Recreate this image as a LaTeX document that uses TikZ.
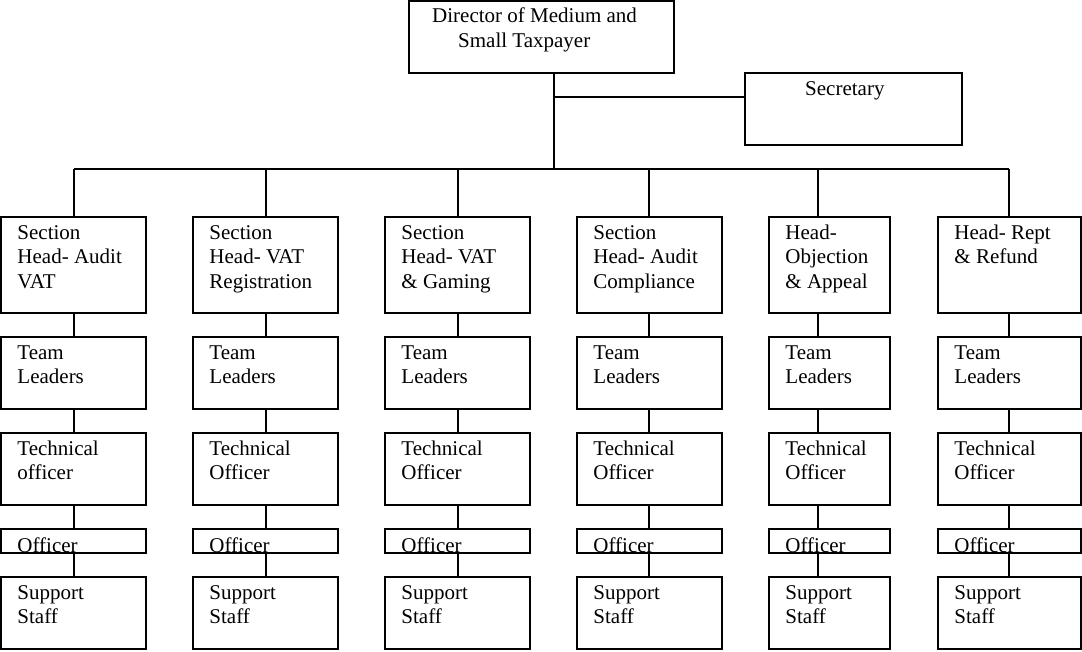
\documentclass[tikz,border=0pt]{standalone}
\usepackage{fontspec}
\setmainfont{Liberation Serif}
\tikzset{
  box/.style={draw, line width=1.5pt, rectangle, inner sep=0pt},
  conn/.style={draw, line width=1.5pt},
  lbl/.style={anchor=north west, inner sep=0pt, align=left, font=\fontsize{21}{24.5}\selectfont},
  txt/.style={anchor=base west, inner sep=0pt, font=\fontsize{21}{24.5}\selectfont}
}
% #1 idx, #2 left x, #3 width, #4 axis x, #5 head text, #6 tech text
\newcommand\mkcol[6]{%
  \pgfmathsetmacro\cx{#2+#3/2}%
  \coordinate (ax#1) at (#4,169);
  \node[box, minimum width=#3pt, minimum height=96pt] (h#1) at (\cx,265) {};
  \node[lbl] (hl#1) at ([xshift=17pt,yshift=-5.85pt]h#1.north west) {\strut #5};
  \node[box, minimum width=#3pt, minimum height=72pt] (t#1) at (\cx,373) {};
  \node[lbl] (tl#1) at ([xshift=17pt,yshift=-5.85pt]t#1.north west) {\strut Team\\Leaders};
  \node[box, minimum width=#3pt, minimum height=72pt] (c#1) at (\cx,469) {};
  \node[lbl] (cl#1) at ([xshift=17pt,yshift=-5.85pt]c#1.north west) {\strut #6};
  \node[box, minimum width=#3pt, minimum height=24pt] (o#1) at (\cx,541) {};
  \begin{scope}
    \clip (o#1.north west) rectangle (o#1.south east);
    \node[lbl] (ol#1) at ([xshift=17pt,yshift=-6.5pt]o#1.north west) {\strut Officer};
  \end{scope}
  \node[box, minimum width=#3pt, minimum height=72pt] (s#1) at (\cx,613) {};
  \node[lbl] (sl#1) at ([xshift=17pt,yshift=-5.85pt]s#1.north west) {\strut Support\\Staff};
  \draw[conn] (ax#1) -- (h#1.north -| ax#1);
  \draw[conn] (h#1.south -| ax#1) -- (t#1.north -| ax#1);
  \draw[conn] (t#1.south -| ax#1) -- (c#1.north -| ax#1);
  \draw[conn] (c#1.south -| ax#1) -- (o#1.north -| ax#1);
  \draw[conn] (o#1.south -| ax#1) -- (s#1.north -| ax#1);
}
\begin{document}
\begin{tikzpicture}[x=1pt,y=-1pt]
  \useasboundingbox (0,0) rectangle (1082,652);
  % director
  \node[box, minimum width=265pt, minimum height=72pt] (dir) at (541.5,37) {};
  \node[txt] (dirl1) at (432,23) {Director of Medium and};
  \node[txt] (dirl2) at (458,48) {Small Taxpayer};
  % secretary
  \node[box, minimum width=217pt, minimum height=72pt] (sec) at (853.5,109) {};
  \node[txt] (secl) at (805,96) {Secretary};
  \coordinate (dax) at (554,169);
  \coordinate (secjoin) at ([yshift=12pt]sec.west);
  \draw[conn] (dir.south -| dax) -- (dax);
  \draw[conn] (dax |- secjoin) -- (secjoin);
  % columns
  \mkcol{1}{1}{145}{74}{Section\\Head- Audit\\VAT}{Technical\\officer}
  \mkcol{2}{193}{145}{266}{Section\\Head- VAT\\Registration}{Technical\\Officer}
  \mkcol{3}{385}{145}{458}{Section\\Head- VAT\\\& Gaming}{Technical\\Officer}
  \mkcol{4}{577}{145}{649}{Section\\Head- Audit\\Compliance}{Technical\\Officer}
  \mkcol{5}{769}{121}{818}{Head-\\Objection\\\& Appeal}{Technical\\Officer}
  \mkcol{6}{938}{143}{1009}{Head- Rept\\\& Refund}{Technical\\Officer}
  % bus
  \draw[conn] (ax1) -- (ax6);
\end{tikzpicture}
\end{document}
